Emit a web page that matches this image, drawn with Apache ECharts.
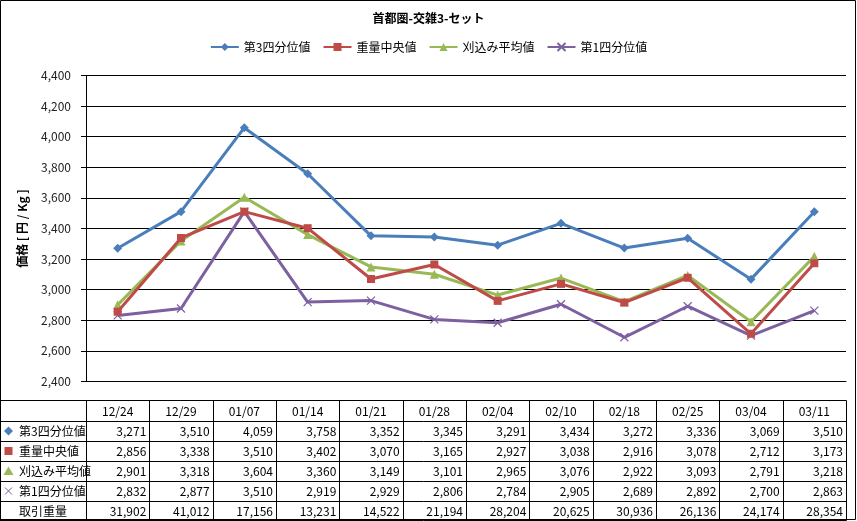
<!DOCTYPE html>
<html>
<head>
<meta charset="utf-8">
<script src="https://cdn.jsdelivr.net/npm/echarts@6/dist/echarts.min.js"></script>
<style>
html,body{margin:0;padding:0;background:#fff;}
#c{width:857px;height:521px;}
</style>
</head>
<body>
<div id="c"></div>
<script>
const titleText = '首都圏-交雑3-セット';
const yAxisName = '価格 [ 円 / Kg ]';
const categories = ['12/24','12/29','01/07','01/14','01/21','01/28','02/04','02/10','02/18','02/25','03/04','03/11'];
const seriesNames = ['第3四分位値','重量中央値','刈込み平均値','第1四分位値'];
const q3 = [3271,3510,4059,3758,3352,3345,3291,3434,3272,3336,3069,3510];
const median = [2856,3338,3510,3402,3070,3165,2927,3038,2916,3078,2712,3173];
const trimmedMean = [2901,3318,3604,3360,3149,3101,2965,3076,2922,3093,2791,3218];
const q1 = [2832,2877,3510,2919,2929,2806,2784,2905,2689,2892,2700,2863];
const volumeLabel = '取引重量';
const volume = [31902,41012,17156,13231,14522,21194,28204,20625,30936,26136,24174,28354];
const yMin = 2400, yMax = 4400, yStep = 200;

const colors = ['#4A7EBB','#BE4B48','#98B954','#7D60A0'];
const symbols = ['diamond','rect','triangle','path://M0,0L10,10M10,0L0,10'];
const symbolSizes = [9,8,9,8];
const FONT = '"Noto Sans CJK JP","Noto Sans",sans-serif';
const fmt = v => v.toLocaleString('en-US');

const seriesData = [q3, median, trimmedMean, q1];

const chart = echarts.init(document.getElementById('c'), null, {renderer:'canvas'});
const option = {
  backgroundColor:'#fff',
  animation:false,
  textStyle:{fontFamily:FONT},
  title:{
    text:titleText, left:'center', top:7,
    textStyle:{fontSize:12, fontWeight:'bold', color:'#000', fontFamily:FONT}
  },
  legend:{
    top:36, left:'center', itemWidth:28, itemHeight:10, itemGap:12,
    textStyle:{fontSize:12, color:'#000', fontFamily:FONT},
    data:seriesNames
  },
  grid:{left:86, right:11, top:75.5, bottom:139.5, containLabel:false},
  xAxis:{
    type:'category', data:categories, boundaryGap:true,
    axisLine:{show:true, lineStyle:{color:'#000', width:1}},
    axisTick:{show:false}, axisLabel:{show:false}, splitLine:{show:false}
  },
  yAxis:{
    type:'value', min:yMin, max:yMax, interval:yStep,
    name:yAxisName, nameLocation:'middle', nameRotate:90, nameGap:58,
    nameTextStyle:{fontSize:12, fontWeight:'bold', color:'#000', fontFamily:FONT},
    axisLine:{show:true, lineStyle:{color:'#000', width:1}},
    axisTick:{show:true, inside:false, length:5, lineStyle:{color:'#000'}},
    axisLabel:{margin:15, fontSize:12, color:'#222', fontFamily:FONT, formatter:v=>fmt(v)},
    splitLine:{show:true, lineStyle:{color:'#000', width:1}}
  },
  series: seriesNames.map((n,i)=>({
    name:n, type:'line', data:seriesData[i],
    symbol:symbols[i], symbolSize:symbolSizes[i], showAllSymbol:true,
    lineStyle:{color:colors[i], width:3},
    itemStyle:{color:colors[i], borderColor:colors[i], borderWidth:i===3?1.2:0},
    z:10-i
  }))
};
chart.setOption(option);

// Build data table aligned with the category axis
const xc0 = chart.convertToPixel({xAxisIndex:0}, 0);
const xc1 = chart.convertToPixel({xAxisIndex:0}, 1);
const colW = xc1 - xc0;
const plotLeft = xc0 - colW/2;
const plotRight = plotLeft + colW*categories.length;
const tableTop = Math.round(chart.convertToPixel({yAxisIndex:0}, yMin)) + 18;
const rowHeights = [21,20,20,20,20,19];
const rowTops = [tableTop];
rowHeights.forEach(h=>rowTops.push(rowTops[rowTops.length-1]+h));
const crisp = v => Math.round(v)+0.5;
const g = [];
// horizontal lines
rowTops.forEach(y=>{
  g.push({type:'line', shape:{x1:0, y1:crisp(y), x2:crisp(plotRight), y2:crisp(y)}, style:{stroke:'#000', lineWidth:1}, silent:true});
});
// vertical lines
const vx = [0.5];
for(let k=0;k<=categories.length;k++) vx.push(crisp(plotLeft + k*colW));
vx.forEach(x=>{
  g.push({type:'line', shape:{x1:x, y1:crisp(rowTops[0]), x2:x, y2:crisp(rowTops[rowTops.length-1])}, style:{stroke:'#000', lineWidth:1}, silent:true});
});
const txtStyle = (extra)=>Object.assign({fill:'#000', fontSize:12, fontFamily:FONT, verticalAlign:'middle'}, extra);
// header
categories.forEach((c,i)=>{
  const cx = chart.convertToPixel({xAxisIndex:0}, i);
  g.push({type:'text', x:cx, y:(rowTops[0]+rowTops[1])/2+0.5, style:txtStyle({text:c, align:'center'}), silent:true});
});
// rows
const rows = seriesData.concat([volume]);
const rowLabels = seriesNames.concat([volumeLabel]);
rows.forEach((arr,r)=>{
  const yMid = (rowTops[r+1]+rowTops[r+2])/2 + 0.5;
  g.push({type:'text', x:19, y:yMid, style:txtStyle({text:rowLabels[r], align:'left'}), silent:true});
  arr.forEach((v,i)=>{
    const cx = chart.convertToPixel({xAxisIndex:0}, i);
    g.push({type:'text', x:cx + colW/2 - 3, y:yMid, style:txtStyle({text:fmt(v), align:'right'}), silent:true});
  });
  // marker icons
  const mx = 8.5, my = yMid - 0.5;
  if(r===0){
    g.push({type:'polygon', shape:{points:[[mx,my-4.5],[mx+4.5,my],[mx,my+4.5],[mx-4.5,my]]}, style:{fill:colors[0]}, silent:true});
  } else if(r===1){
    g.push({type:'rect', shape:{x:mx-4, y:my-4, width:8, height:8}, style:{fill:colors[1]}, silent:true});
  } else if(r===2){
    g.push({type:'polygon', shape:{points:[[mx,my-4.5],[mx+5,my+4],[mx-5,my+4]]}, style:{fill:colors[2]}, silent:true});
  } else if(r===3){
    g.push({type:'line', shape:{x1:mx-3.5,y1:my-3.5,x2:mx+3.5,y2:my+3.5}, style:{stroke:colors[3], lineWidth:1}, silent:true});
    g.push({type:'line', shape:{x1:mx+3.5,y1:my-3.5,x2:mx-3.5,y2:my+3.5}, style:{stroke:colors[3], lineWidth:1}, silent:true});
  }
});
// outer chart border
g.push({type:'rect', shape:{x:0.5, y:0.5, width:855, height:519}, style:{fill:null, stroke:'#000', lineWidth:1}, silent:true, z:100});
chart.setOption({graphic:g});
</script>
</body>
</html>
